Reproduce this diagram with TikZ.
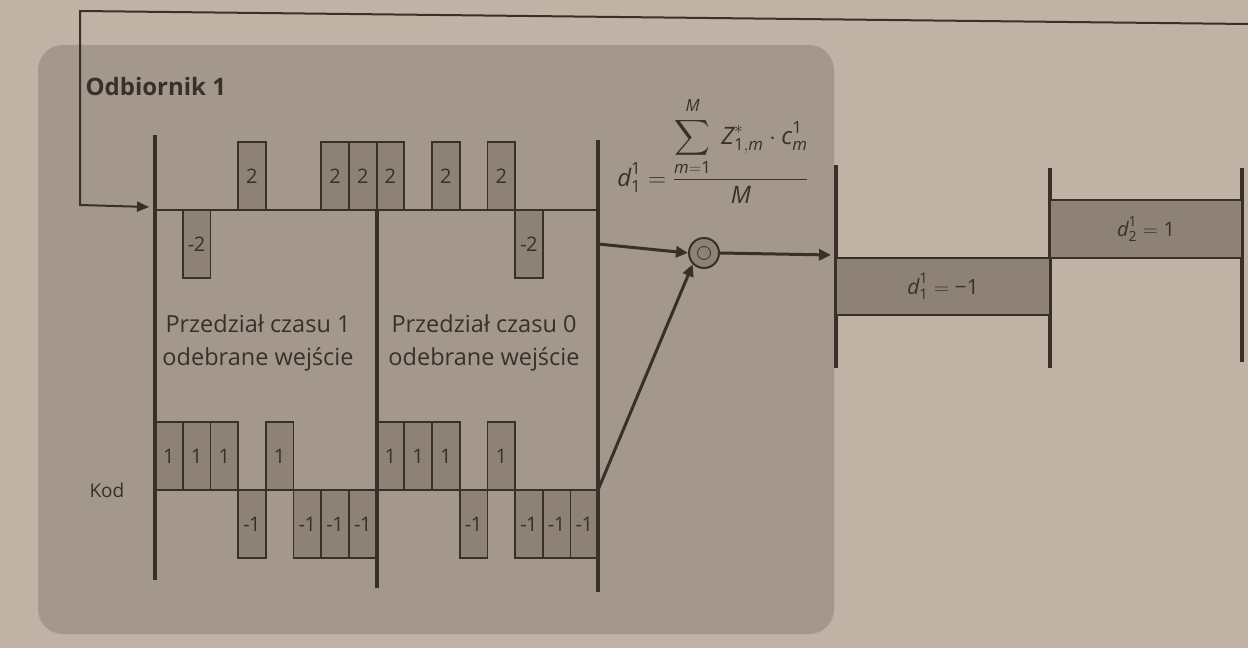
\documentclass[tikz,border=0pt]{standalone}
\usepackage{amsmath}
\usepackage{fontspec}
\setmainfont{Open Sans}
\usetikzlibrary{arrows.meta}
\definecolor{page}{HTML}{C0B3A6}
\definecolor{panel}{HTML}{A4988C}
\definecolor{barfill}{HTML}{8E8175}
\definecolor{ink}{HTML}{3A302A}
\tikzset{
  ln/.style={draw=ink, line width=2pt},
  axis/.style={draw=ink, line width=3.4pt},
  arr/.style={draw=ink, line width=3pt, -{Triangle[length=12pt,width=11pt]}},
  bar/.style={draw=ink, line width=1.8pt, fill=barfill, minimum width=27.7pt, minimum height=68pt, inner sep=0pt, font=\fontsize{20}{22}\selectfont, text=ink},
  lbl/.style={font=\fontsize{23.5}{33}\selectfont, text=ink, align=center},
  dbox/.style={draw=ink, line width=2pt, fill=barfill, inner sep=0pt, text=ink}
}
\newcommand\sgn[1]{\ifnum#1<0 -\kern-0.5pt\the\numexpr-#1\relax\else#1\fi}
\newcommand\vi[1]{\textit{#1}}
\newcommand\vn[1]{\text{#1}}
\begin{document}
\begin{tikzpicture}[x=1pt,y=-1pt]
\useasboundingbox (0,0) rectangle (1248,648);
\fill[page] (0,0) rectangle (1248,648);
\fill[panel, rounded corners=25pt] (38,45) rectangle (834,634);
% labels
\node[anchor=west, font=\bfseries\fontsize{24}{26}\selectfont, text=ink] (title) at (82,86) {Odbiornik 1};
\node[anchor=west, font=\fontsize{19}{21}\selectfont, text=ink] (kod) at (86,490) {Kod};
\node[lbl] (p1) at (258,343) {Przedział czasu 1\\odebrane wejście};
\node[lbl] (p0) at (484,343) {Przedział czasu 0\\odebrane wejście};
% bars: received signal
\foreach \i/\v in {1/-2,3/2,6/2,7/2,8/2,10/2,12/2,13/-2}{
  \pgfmathsetmacro\xc{155+27.7*(\i+0.5)}
  \pgfmathsetmacro\yc{\v>0 ? 176 : 244}
  \node[bar] (s\i) at (\xc,\yc) {\sgn{\v}};
}
% bars: code
\foreach \i/\v in {0/1,1/1,2/1,3/-1,4/1,5/-1,6/-1,7/-1,8/1,9/1,10/1,11/-1,12/1,13/-1,14/-1,15/-1}{
  \pgfmathsetmacro\xc{155+27.7*(\i+0.5)}
  \pgfmathsetmacro\yc{\v>0 ? 456 : 524}
  \node[bar] (c\i) at (\xc,\yc) {\sgn{\v}};
}
% coordinates
\coordinate (fbR) at (1248,24);
\coordinate (fbC) at (80,11);
\coordinate (fbL) at (80,205);
\coordinate (fbT) at (149,207);
\coordinate (sigA) at (155,210);
\coordinate (sigB) at (598,210);
\coordinate (codA) at (155,490);
\coordinate (codB) at (598,490);
\coordinate (v1t) at (155,135);
\coordinate (v1b) at (155,580);
\coordinate (v2t) at (377,210);
\coordinate (v2b) at (377,588);
\coordinate (v3t) at (598,140);
\coordinate (v3b) at (598,592);
\coordinate (v3m) at (598,244);
% axes
\draw[ln] (sigA) -- (sigB);
\draw[ln] (codA) -- (codB);
\draw[axis] (v1t) -- (v1b);
\draw[axis] (v2t) -- (v2b);
\draw[axis] (v3t) -- (v3b);
% feedback line
\draw[ln, -{Triangle[length=12pt,width=10pt]}] (fbR) -- (fbC) -- (fbL) -- (fbT);
% formula
\node[text=ink, font=\fontsize{24}{28}\selectfont, inner sep=0pt] (formula) at (713,150)
  {$\vi{d}^{\vn{1}}_{\vn{1}} = \dfrac{\displaystyle\sum_{\vi{m}=\vn{1}}^{\vi{M}\rule[-4pt]{0pt}{4pt}}\ \vi{Z}^{*}_{\vn{1},\vi{m}}\cdot \vi{c}^{\vn{1}}_{\vi{m}}}{\vi{M}}$};
% combiner
\node[circle, draw=ink, line width=2pt, fill=barfill, minimum size=30pt, inner sep=0pt] (sum) at (704,253) {};
\node[circle, draw=ink, line width=0.8pt, minimum size=13pt, inner sep=0pt] (sumin) at (sum.center) {};
\coordinate (outE) at (831,255);
\draw[arr] (v3m) -- (sum.west);
\draw[arr] (codB) -- (sum.south west);
\draw[arr] (sum.east) -- (outE);
% right side
\draw[axis] (836,165) coordinate (r1t) -- (836,368) coordinate (r1b);
\draw[axis] (1050,168) coordinate (r2t) -- (1050,368) coordinate (r2b);
\draw[axis] (1242,168) coordinate (r3t) -- (1242,362) coordinate (r3b);
\node[dbox, minimum width=214pt, minimum height=57pt, font=\fontsize{21}{23}\selectfont] (d1) at (943,286.5) {$\vi{d}^{\vn{1}}_{\vn{1}}= \vn{\textminus1}$};
\node[dbox, minimum width=192pt, minimum height=58pt, font=\fontsize{20}{22}\selectfont] (d2) at (1146,229) {$\vi{d}^{\vn{1}}_{\vn{2}}= \vn{1}$};
\end{tikzpicture}
\end{document}
